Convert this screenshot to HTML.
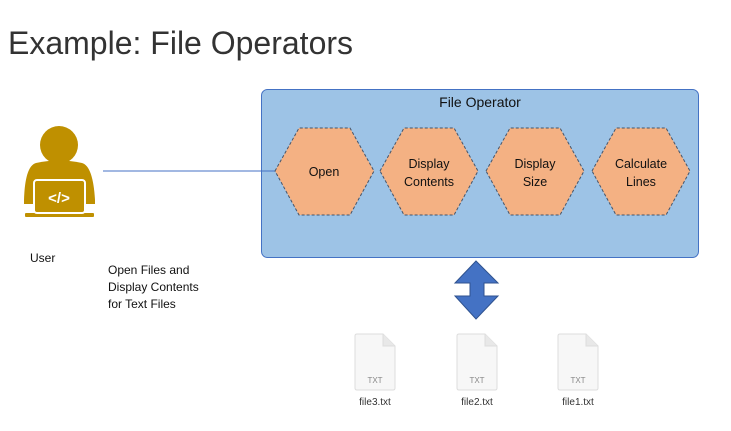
<!DOCTYPE html>
<html><head><style>
body{margin:0;width:731px;height:431px;background:#fff;font-family:"Liberation Sans",sans-serif;overflow:hidden;position:relative}
.t{position:absolute;white-space:nowrap}
</style></head><body>
<div class="t" style="left:8px;top:25px;font-size:32px;color:#333;">Example: File Operators</div>
<svg width="731" height="431" style="position:absolute;left:0;top:0">
<rect x="261.5" y="89.5" width="437" height="168" rx="6" fill="#9dc3e6" stroke="#4472c4" stroke-width="1"/>
<line x1="103" y1="171" x2="275" y2="171" stroke="#4472c4" stroke-width="1"/>
<g fill="#f4b183" stroke="#44546a" stroke-dasharray="3,2" stroke-width="1">
<polygon points="275,171 299,128 350,128 374,171 350,215 299,215"/>
<polygon points="380,171 404,128 454,128 478,171 454,215 404,215"/>
<polygon points="486,171 510,128 560,128 584,171 560,215 510,215"/>
<polygon points="592,171 616,128 666,128 690,171 666,215 616,215"/>
</g>
<polygon points="476,261 498,283 484,283 484,296 498,296 476,319 455,296 470,296 470,283 455,283" fill="#4472c4" stroke="#2f528f" stroke-width="1"/>
<g fill="#bf9000">
<circle cx="59" cy="145" r="19"/>
<path d="M36,163 Q59,158 82,163 Q93,166 95,200 L95,204 L24,204 L24,200 Q25,166 36,163Z"/>
<rect x="25" y="213" width="69" height="4" rx="1"/>
</g>
<rect x="34" y="180" width="51" height="33" rx="3" fill="#bf9000" stroke="#fff" stroke-width="2"/>
<text x="59" y="203" font-size="15" fill="#fff" text-anchor="middle" font-family="Liberation Sans" font-weight="bold">&lt;/&gt;</text>
<g font-family="Liberation Sans" fill="#333">
<g transform="translate(355,334)"><path d="M0,2 Q0,0 2,0 L28,0 L40,12 L40,54 Q40,56 38,56 L2,56 Q0,56 0,54Z" fill="#f7f7f7" stroke="#ddd"/><path d="M28,0 L28,12 L40,12" fill="#e8e8e8" stroke="#ddd"/><text x="20" y="49" font-size="8" fill="#888" text-anchor="middle">TXT</text></g>
<g transform="translate(457,334)"><path d="M0,2 Q0,0 2,0 L28,0 L40,12 L40,54 Q40,56 38,56 L2,56 Q0,56 0,54Z" fill="#f7f7f7" stroke="#ddd"/><path d="M28,0 L28,12 L40,12" fill="#e8e8e8" stroke="#ddd"/><text x="20" y="49" font-size="8" fill="#888" text-anchor="middle">TXT</text></g>
<g transform="translate(558,334)"><path d="M0,2 Q0,0 2,0 L28,0 L40,12 L40,54 Q40,56 38,56 L2,56 Q0,56 0,54Z" fill="#f7f7f7" stroke="#ddd"/><path d="M28,0 L28,12 L40,12" fill="#e8e8e8" stroke="#ddd"/><text x="20" y="49" font-size="8" fill="#888" text-anchor="middle">TXT</text></g>
<text x="375" y="405" font-size="10" text-anchor="middle">file3.txt</text>
<text x="477" y="405" font-size="10" text-anchor="middle">file2.txt</text>
<text x="578" y="405" font-size="10" text-anchor="middle">file1.txt</text>
</g>
<g font-family="Liberation Sans" font-size="12.5" fill="#111" text-anchor="middle">
<text x="480" y="107" font-size="14">File Operator</text>
<text x="324" y="176">Open</text>
<text x="429" y="168">Display</text><text x="429" y="186">Contents</text>
<text x="535" y="168">Display</text><text x="535" y="186">Size</text>
<text x="641" y="168">Calculate</text><text x="641" y="186">Lines</text>
</g>
<g font-family="Liberation Sans" font-size="12" fill="#111">
<text x="30" y="262">User</text>
<text x="108" y="274">Open Files and</text>
<text x="108" y="291">Display Contents</text>
<text x="108" y="308">for Text Files</text>
</g>
</svg>
</body></html>
